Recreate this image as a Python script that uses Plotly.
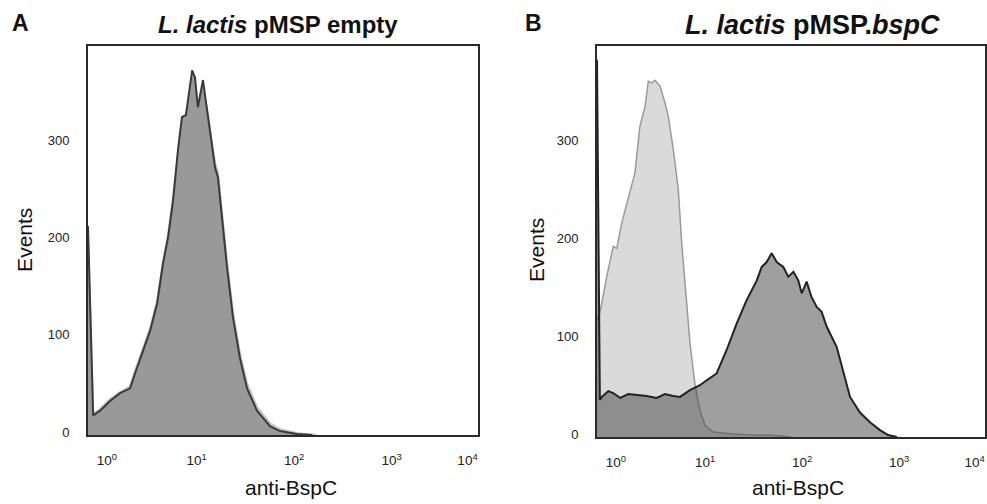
import plotly.graph_objects as go

# panel A: L. lactis pMSP empty  (intensity, events)
a_dark_x = [1.0, 1.13, 1.33, 1.68, 2.13, 2.70, 3.03, 3.66, 4.33, 5.11, 5.87, 6.62, 7.45, 8.37, 9.20, 10.1,
            11.7, 12.5, 13.4, 15.1, 16.6, 20.1, 21.5, 26.7, 30.7, 36.2, 42.8, 54.1, 73.6, 93.1, 139, 200]
a_dark_y = [215, 20, 25, 35, 43, 48, 63, 87, 107, 135, 176, 203, 241, 293, 327, 329,
            375, 368, 337, 365, 334, 275, 265, 172, 121, 79, 48, 25, 9, 4, 1, 0]
a_ctrl_x = [1.0, 1.13, 1.33, 1.68, 2.13, 2.70, 3.03, 3.66, 4.33, 5.11, 5.87, 6.62, 7.45, 8.37, 9.20, 10.1,
            11.7, 12.5, 13.4, 15.1, 16.6, 20.1, 21.5, 26.7, 30.7, 36.2, 42.8, 54.1, 73.6, 93.1, 139, 220]
a_ctrl_y = [205, 22, 27, 37, 44, 50, 66, 90, 110, 138, 178, 206, 244, 290, 320, 330,
            362, 360, 340, 358, 335, 280, 270, 178, 126, 84, 53, 29, 12, 6, 2, 0]

# panel B: L. lactis pMSP.bspC
b_ctrl_x = [1.0, 1.07, 1.12, 1.26, 1.47, 1.60, 1.80, 2.19, 2.46, 2.77, 3.13, 3.38, 3.66, 3.96, 4.46, 5.02,
            5.43, 6.12, 6.89, 7.47, 8.27, 9.09, 10.2, 11.5, 13.0, 15.7, 25, 40, 60, 100]
b_ctrl_y = [120, 127, 137, 164, 195, 193, 219, 253, 270, 318, 338, 364, 362, 365, 359, 342,
            328, 294, 253, 198, 140, 96, 55, 27, 12, 5, 3, 2, 2, 0]
b_dark_x = [1.0, 1.07, 1.12, 1.31, 1.47, 1.73, 2.10, 2.57, 3.25, 4.12, 5.02, 6.12, 7.17, 9.09, 11.5, 13.5,
            17.1, 21.7, 27.5, 34.9, 39.4, 44.3, 49.9, 56.1, 63.2, 71.2, 83.3, 93.8, 106, 119, 129, 145,
            163, 184, 207, 233, 296, 346, 406, 514, 652, 827, 1000, 1240]
b_dark_y = [386, 38, 41, 47, 45, 40, 44, 43, 42, 40, 44, 42, 41, 48, 53, 58,
            65, 89, 116, 140, 150, 160, 174, 179, 188, 179, 174, 164, 169, 160, 147, 159,
            143, 133, 128, 113, 92, 68, 41, 25, 15, 7, 2, 0]

x_tickvals = [1.2, 10, 100, 1000, 6000]
x_ticktext = ['10<sup>0</sup>', '10<sup>1</sup>', '10<sup>2</sup>', '10<sup>3</sup>', '10<sup>4</sup>']
y_tickvals = [0, 100, 200, 300]

FONT = 'Liberation Sans, Arial, Helvetica, sans-serif'

fig = go.Figure()
# control (isotype) under, sample over
fig.add_trace(go.Scatter(x=a_ctrl_x, y=a_ctrl_y, fill='tozeroy', mode='lines',
                         line=dict(color='#c4c4c4', width=2), fillcolor='#dadada',
                         xaxis='x', yaxis='y', showlegend=False))
fig.add_trace(go.Scatter(x=a_dark_x, y=a_dark_y, fill='tozeroy', mode='lines',
                         line=dict(color='#3a3a3a', width=2), fillcolor='#999999',
                         xaxis='x', yaxis='y', showlegend=False))
fig.add_trace(go.Scatter(x=b_ctrl_x, y=b_ctrl_y, fill='tozeroy', mode='lines',
                         line=dict(color='#9a9a9a', width=1.5), fillcolor='#dadada',
                         xaxis='x2', yaxis='y2', showlegend=False))
fig.add_trace(go.Scatter(x=b_dark_x, y=b_dark_y, fill='tozeroy', mode='lines',
                         line=dict(color='#222222', width=2), fillcolor='rgba(80,80,80,0.55)',
                         xaxis='x2', yaxis='y2', showlegend=False))

xax = dict(type='log', range=[0, 4], showgrid=False, zeroline=False, showline=True, mirror=True,
           linecolor='#2a2a2a', linewidth=2, ticks='', tickvals=x_tickvals, ticktext=x_ticktext,
           ticklabelposition='outside right', tickfont=dict(family=FONT, size=13.5, color='#222'),
           ticklabelstandoff=12, automargin=False)
yax = dict(range=[0, 400], showgrid=False, zeroline=False, showline=True, mirror=True,
           linecolor='#2a2a2a', linewidth=2, ticks='', tickvals=y_tickvals,
           tickfont=dict(family=FONT, size=13, color='#222'), ticklabelstandoff=14,
           ticklabelshift=-3, automargin=False)

fig.update_layout(
    width=987, height=504,
    margin=dict(l=0, r=0, t=0, b=0),
    paper_bgcolor='white', plot_bgcolor='white',
    font=dict(family=FONT, color='#111'),
    xaxis=dict(xax, domain=[88 / 987, 478 / 987], anchor='y'),
    yaxis=dict(yax, domain=[1 - 435 / 504, 1 - 46 / 504], anchor='x'),
    xaxis2=dict(xax, domain=[597 / 987, 985 / 987], anchor='y2'),
    yaxis2=dict(yax, domain=[1 - 437 / 504, 1 - 46 / 504], anchor='x2'),
)

ann = [
    dict(text='<b>A</b>', x=0.021, y=0.954, size=23),
    dict(text='<b>B</b>', x=0.541, y=0.954, size=23),
    dict(text='<b><i>L. lactis</i> pMSP empty</b>', x=0.282, y=0.952, size=24),
    dict(text='<b><i>L. lactis</i> pMSP.<i>bspC</i></b>', x=0.823, y=0.950, size=27),
    dict(text='anti-BspC', x=0.295, y=0.032, size=21),
    dict(text='anti-BspC', x=0.8085, y=0.032, size=21),
]
for a in ann:
    fig.add_annotation(text=a['text'], x=a['x'], y=a['y'], xref='paper', yref='paper',
                       showarrow=False, xanchor='center', yanchor='middle',
                       font=dict(family=FONT, size=a['size'], color='#111'))
for xx, yy in [(0.0253, 0.524), (0.544, 0.504)]:
    fig.add_annotation(text='Events', x=xx, y=yy, xref='paper', yref='paper', textangle=-90,
                       showarrow=False, xanchor='center', yanchor='middle',
                       font=dict(family=FONT, size=21, color='#111'))

fig.write_html("out.html", config={'displayModeBar': False},
               post_script="document.body.style.margin='0';")
